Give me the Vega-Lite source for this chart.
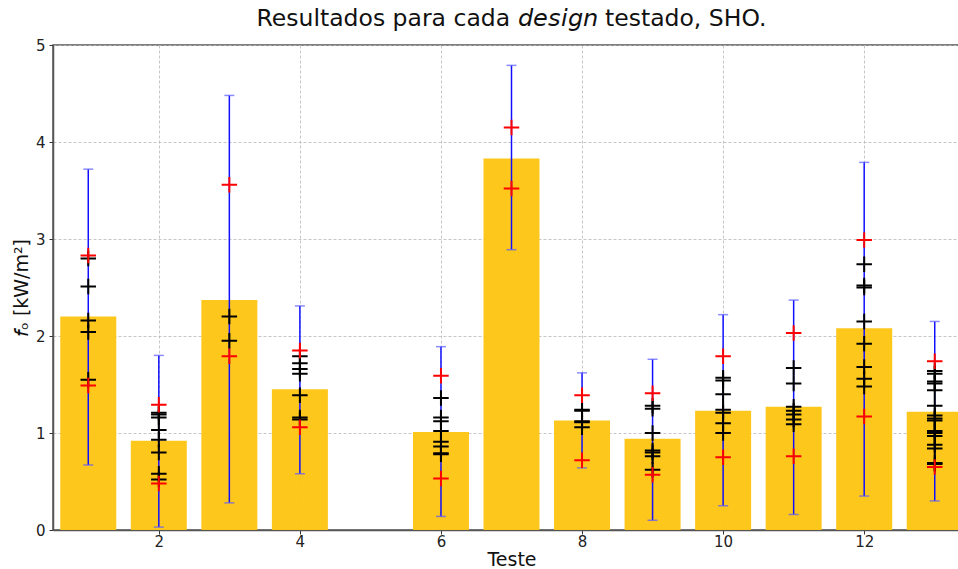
{
  "$schema": "https://vega.github.io/schema/vega-lite/v6.json",
  "autosize": "none",
  "width": 917,
  "height": 485,
  "padding": {"left": 53, "top": 45, "right": 0, "bottom": 39},
  "background": "white",
  "config": {
    "font": "DejaVu Sans",
    "view": {"stroke": "#555", "strokeWidth": 1.5},
    "axis": {
      "domainColor": "#555",
      "domainWidth": 1.5,
      "tickColor": "#333",
      "tickSize": 4,
      "labelFontSize": 15,
      "labelColor": "#222",
      "titleFontWeight": "normal",
      "titleColor": "#111",
      "gridColor": "#b8b8b8",
      "gridDash": [3, 2],
      "gridWidth": 0.8
    }
  },
  "title": {
    "text": "Resultados para cada 𝘥𝘦𝘴𝘪𝘨𝘯 testado, SHO.",
    "fontSize": 23.5,
    "fontWeight": "normal",
    "color": "#111",
    "offset": 8,
    "anchor": "middle"
  },
  "datasets": {
    "barras": [
      {"teste": 1, "valor": 2.20, "min": 0.67, "max": 3.72},
      {"teste": 2, "valor": 0.92, "min": 0.03, "max": 1.80},
      {"teste": 3, "valor": 2.37, "min": 0.28, "max": 4.48},
      {"teste": 4, "valor": 1.45, "min": 0.58, "max": 2.31},
      {"teste": 6, "valor": 1.01, "min": 0.14, "max": 1.89},
      {"teste": 7, "valor": 3.83, "min": 2.89, "max": 4.79},
      {"teste": 8, "valor": 1.13, "min": 0.64, "max": 1.62},
      {"teste": 9, "valor": 0.94, "min": 0.10, "max": 1.76},
      {"teste": 10, "valor": 1.23, "min": 0.25, "max": 2.22},
      {"teste": 11, "valor": 1.27, "min": 0.16, "max": 2.37},
      {"teste": 12, "valor": 2.08, "min": 0.35, "max": 3.79},
      {"teste": 13, "valor": 1.22, "min": 0.30, "max": 2.15}
    ],
    "amostras": [
      {"teste": 1, "fo": 2.80}, {"teste": 1, "fo": 2.51}, {"teste": 1, "fo": 2.16}, {"teste": 1, "fo": 2.04}, {"teste": 1, "fo": 1.55},
      {"teste": 2, "fo": 1.21}, {"teste": 2, "fo": 1.19}, {"teste": 2, "fo": 1.16}, {"teste": 2, "fo": 1.03}, {"teste": 2, "fo": 0.93}, {"teste": 2, "fo": 0.80}, {"teste": 2, "fo": 0.58}, {"teste": 2, "fo": 0.52},
      {"teste": 3, "fo": 2.20}, {"teste": 3, "fo": 1.95},
      {"teste": 4, "fo": 1.79}, {"teste": 4, "fo": 1.72}, {"teste": 4, "fo": 1.66}, {"teste": 4, "fo": 1.61}, {"teste": 4, "fo": 1.39}, {"teste": 4, "fo": 1.16}, {"teste": 4, "fo": 1.14},
      {"teste": 6, "fo": 1.36}, {"teste": 6, "fo": 1.16}, {"teste": 6, "fo": 1.12}, {"teste": 6, "fo": 1.02}, {"teste": 6, "fo": 0.91}, {"teste": 6, "fo": 0.86}, {"teste": 6, "fo": 0.79}, {"teste": 6, "fo": 0.78},
      {"teste": 8, "fo": 1.24}, {"teste": 8, "fo": 1.23}, {"teste": 8, "fo": 1.12}, {"teste": 8, "fo": 1.11}, {"teste": 8, "fo": 1.06},
      {"teste": 9, "fo": 1.28}, {"teste": 9, "fo": 1.25}, {"teste": 9, "fo": 1.00}, {"teste": 9, "fo": 0.82}, {"teste": 9, "fo": 0.80}, {"teste": 9, "fo": 0.76}, {"teste": 9, "fo": 0.62},
      {"teste": 10, "fo": 1.57}, {"teste": 10, "fo": 1.54}, {"teste": 10, "fo": 1.40}, {"teste": 10, "fo": 1.24}, {"teste": 10, "fo": 1.21}, {"teste": 10, "fo": 1.10}, {"teste": 10, "fo": 1.00},
      {"teste": 11, "fo": 1.67}, {"teste": 11, "fo": 1.51}, {"teste": 11, "fo": 1.27}, {"teste": 11, "fo": 1.23}, {"teste": 11, "fo": 1.19}, {"teste": 11, "fo": 1.14}, {"teste": 11, "fo": 1.09},
      {"teste": 12, "fo": 2.74}, {"teste": 12, "fo": 2.52}, {"teste": 12, "fo": 2.50}, {"teste": 12, "fo": 2.15}, {"teste": 12, "fo": 1.92}, {"teste": 12, "fo": 1.68}, {"teste": 12, "fo": 1.56}, {"teste": 12, "fo": 1.48},
      {"teste": 13, "fo": 1.64}, {"teste": 13, "fo": 1.61}, {"teste": 13, "fo": 1.53}, {"teste": 13, "fo": 1.51}, {"teste": 13, "fo": 1.44}, {"teste": 13, "fo": 1.28}, {"teste": 13, "fo": 1.18}, {"teste": 13, "fo": 1.15}, {"teste": 13, "fo": 1.13}, {"teste": 13, "fo": 1.02}, {"teste": 13, "fo": 1.00}, {"teste": 13, "fo": 0.97}, {"teste": 13, "fo": 0.88}, {"teste": 13, "fo": 0.84}, {"teste": 13, "fo": 0.69}, {"teste": 13, "fo": 0.68}
    ],
    "extremos": [
      {"teste": 1, "fo": 2.83}, {"teste": 1, "fo": 1.49},
      {"teste": 2, "fo": 1.29}, {"teste": 2, "fo": 0.48},
      {"teste": 3, "fo": 3.56}, {"teste": 3, "fo": 1.79},
      {"teste": 4, "fo": 1.85}, {"teste": 4, "fo": 1.06},
      {"teste": 6, "fo": 1.59}, {"teste": 6, "fo": 0.53},
      {"teste": 7, "fo": 4.15}, {"teste": 7, "fo": 3.52},
      {"teste": 8, "fo": 1.39}, {"teste": 8, "fo": 0.72},
      {"teste": 9, "fo": 1.41}, {"teste": 9, "fo": 0.57},
      {"teste": 10, "fo": 1.79}, {"teste": 10, "fo": 0.75},
      {"teste": 11, "fo": 2.03}, {"teste": 11, "fo": 0.76},
      {"teste": 12, "fo": 2.99}, {"teste": 12, "fo": 1.17},
      {"teste": 13, "fo": 1.74}, {"teste": 13, "fo": 0.65}
    ]
  },
  "encoding": {
    "x": {
      "field": "teste",
      "type": "quantitative",
      "scale": {"domain": [0.5, 13.5], "nice": false, "zero": false, "padding": 0},
      "axis": {
        "values": [2, 4, 6, 8, 10, 12],
        "format": "d",
        "title": "Teste",
        "titleFontSize": 19,
        "titlePadding": 1,
        "labelPadding": 0
      }
    }
  },
  "layer": [
    {
      "data": {"name": "barras"},
      "mark": {"type": "bar", "width": 56, "color": "#fec515", "opacity": 0.97},
      "encoding": {
        "y": {
          "field": "valor",
          "type": "quantitative",
          "scale": {"domain": [0, 5], "nice": false, "padding": 0},
          "axis": {
            "values": [0, 1, 2, 3, 4, 5],
            "format": "d",
            "title": "𝘧ₒ [kW/m²]",
            "titleFontSize": 19,
            "titlePadding": 4,
            "labelPadding": 4
          }
        }
      }
    },
    {
      "data": {"name": "barras"},
      "mark": {"type": "rule", "color": "#1010ff", "strokeWidth": 1.5},
      "encoding": {
        "y": {"field": "min", "type": "quantitative"},
        "y2": {"field": "max"}
      }
    },
    {
      "data": {"name": "barras"},
      "mark": {"type": "tick", "orient": "horizontal", "color": "#5a5aff", "size": 10, "thickness": 1.5},
      "encoding": {"y": {"field": "min", "type": "quantitative"}}
    },
    {
      "data": {"name": "barras"},
      "mark": {"type": "tick", "orient": "horizontal", "color": "#5a5aff", "size": 10, "thickness": 1.5},
      "encoding": {"y": {"field": "max", "type": "quantitative"}}
    },
    {
      "data": {"name": "amostras"},
      "mark": {"type": "point", "shape": "M-1,0H1M0,-1V1", "filled": false, "stroke": "black", "strokeWidth": 2, "size": 240, "opacity": 1},
      "encoding": {"y": {"field": "fo", "type": "quantitative"}}
    },
    {
      "data": {"name": "extremos"},
      "mark": {"type": "point", "shape": "M-1,0H1M0,-1V1", "filled": false, "stroke": "red", "strokeWidth": 2, "size": 240, "opacity": 1},
      "encoding": {"y": {"field": "fo", "type": "quantitative"}}
    }
  ]
}
